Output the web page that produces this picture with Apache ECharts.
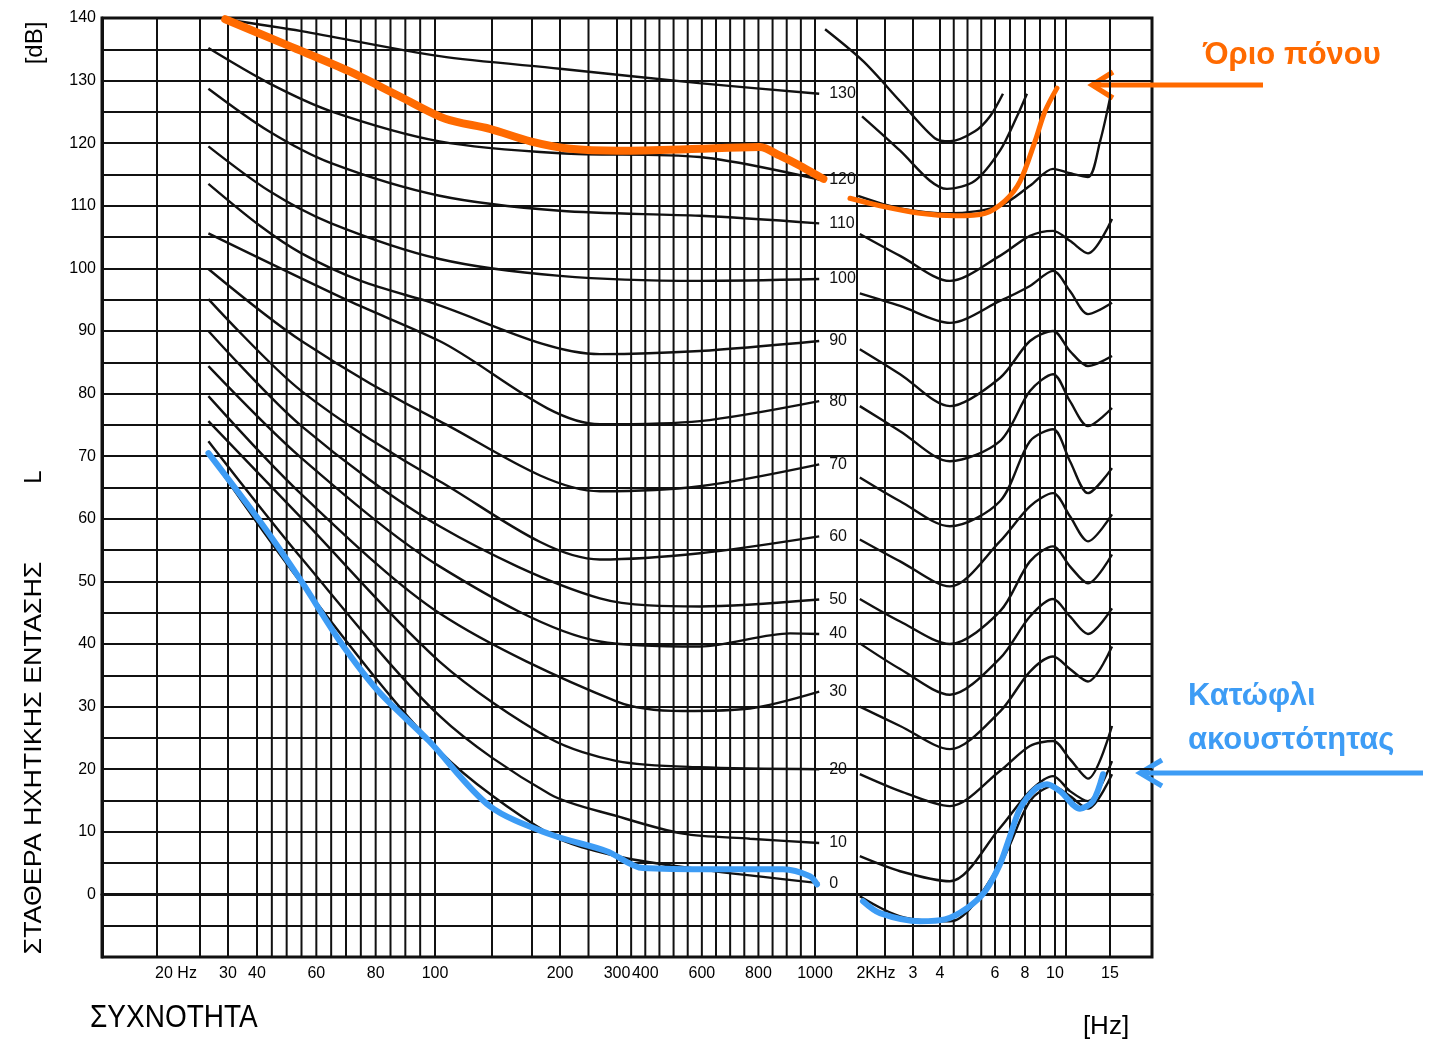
<!DOCTYPE html>
<html>
<head>
<meta charset="utf-8">
<script src="https://cdn.jsdelivr.net/npm/echarts@6/dist/echarts.min.js"></script>
<style>
  html, body { margin: 0; padding: 0; background: #fff; }
  #chart { width: 1432px; height: 1044px; }
</style>
</head>
<body>
<div id="chart"></div>
<script>
// the printed frequency scale is not a clean log scale, so every
// reference frequency gets its place along the paper (0..1050)
const scaleHz = [20, 25, 30, 40, 100, 150, 175, 200, 300, 1000, 2000, 2500, 3000, 4000, 6000, 8000, 10000, 15000, 20000]
const scalePos = [55, 98, 126, 155, 333, 390, 430, 458, 515, 713, 755, 783, 811, 838, 893, 923, 953, 1008, 1050]

const tickHz = [20, 30, 40, 60, 80, 100, 200, 300, 400, 600, 800, 1000, 2000, 3000, 4000, 6000, 8000, 10000, 15000]
const tickText = ['20 Hz', '30', '40', '60', '80', '100', '200', '300', '400', '600', '800', '1000', '2KHz', '3', '4', '6', '8', '10', '15']

// vertical rulings of the paper
const gridHz = [20, 25, 30, 40, 45, 50, 55, 60, 65, 70, 75, 80, 85, 90, 95, 100, 150, 175, 200, 250,
  300, 350, 400, 450, 500, 550, 600, 650, 700, 750, 800, 850, 900, 950, 1000,
  2000, 2500, 3000, 4000, 4500, 5000, 5500, 6000, 7000, 8000, 9000, 10000, 11000, 15000]

const levels = [130, 120, 110, 100, 90, 80, 70, 60, 50, 40, 30, 20, 10, 0]

// contours, [Hz, dB]; low = 20..1000 Hz sheet, high = 2..15 kHz sheet
const low130 = [[29.5, 139.8], [55, 137.9], [104, 133.9], [200, 131.9], [590, 129.6], [1100, 127.9]]
const low120 = [[26.5, 135.2], [44, 129.6], [65, 125.1], [104, 120.3], [200, 118.4], [593, 117.8], [1100, 114.2]]
const low110 = [[26.5, 128.7], [44, 121.9], [65, 116.8], [104, 111.6], [200, 109.2], [593, 108.4], [1100, 107.2]]
const low100 = [[26.5, 119.5], [44, 112.4], [65, 107.2], [104, 101.5], [200, 98.8], [593, 98.0], [1100, 98.3]]
const low90 = [[26.5, 113.5], [41, 106.8], [55, 102.4], [75, 98.0], [97, 94.8], [270, 86.3], [593, 86.8], [1100, 88.4]]
const low80 = [[26.5, 105.6], [71, 94.8], [104, 88.4], [270, 75.1], [593, 75.6], [1100, 78.8]]
const low70 = [[26.5, 99.9], [55, 88.4], [104, 75.6], [270, 64.4], [593, 65.2], [1100, 68.7]]
const low60 = [[26.5, 95.1], [55, 80.4], [104, 66.0], [270, 53.5], [593, 54.5], [1100, 57.2]]
const low50 = [[26.5, 90.0], [55, 74.8], [104, 58.8], [270, 47.3], [593, 46.0], [1100, 47.1]]
const low40 = [[26.5, 84.4], [55, 69.7], [104, 52.4], [270, 40.4], [593, 39.6], [912, 41.7], [1100, 41.6]]
const low30 = [[26.5, 79.6], [55, 63.9], [104, 44.9], [300, 30.8], [533, 29.3], [770, 29.7], [1100, 32.4]]
const low20 = [[26.5, 75.6], [55, 60.1], [104, 37.2], [191, 24.9], [300, 21.3], [593, 20.3], [1100, 20.0]]
const low10 = [[26.5, 72.4], [55, 53.7], [104, 28.5], [191, 16.0], [300, 12.5], [533, 9.7], [770, 8.9], [1100, 8.2]]
const low0 = [[26.5, 70.5], [55, 49.7], [104, 22.9], [191, 9.6], [300, 6.1], [593, 4.0], [1100, 1.8]]

const topHigh = [[1240, 138.2], [2110, 133.1], [2770, 126.7], [3810, 120.8], [4360, 120.3], [5270, 121.9], [5820, 124.3], [6530, 127.9]]
const high130 = [[2090, 124.3], [2770, 118.8], [3630, 114.0], [4255, 112.7], [5270, 114.0], [6330, 118.8], [7470, 124.3], [8130, 127.9]]
const high120 = [[2020, 111.6], [2770, 109.6], [4360, 108.8], [6330, 110.0], [8330, 113.2], [9870, 115.9], [11360, 115.2], [13000, 114.6], [14100, 120.3], [15000, 127.2]]
const high110 = [[2050, 105.5], [2770, 102.0], [4360, 98.0], [6330, 102.0], [8330, 105.2], [9870, 106.0], [11360, 104.4], [13000, 102.4], [15240, 107.9]]
const high100 = [[2050, 96.0], [2770, 94.0], [4360, 91.3], [6330, 94.8], [8330, 97.2], [9870, 99.6], [11360, 96.4], [13000, 92.7], [15240, 94.5]]
const high90 = [[2050, 87.1], [2770, 83.1], [4360, 78.0], [6330, 82.5], [8330, 88.4], [9870, 90.0], [11360, 86.8], [13000, 84.4], [15240, 86.0]]
const high80 = [[2050, 78.0], [2770, 74.0], [4360, 69.2], [6330, 72.4], [8330, 80.4], [9870, 83.1], [11360, 78.8], [13000, 74.8], [15240, 77.7]]
const high70 = [[2050, 66.6], [2770, 62.8], [4360, 58.8], [6330, 62.8], [8330, 72.4], [9870, 74.3], [11360, 69.2], [13000, 64.1], [15240, 68.1]]
const high60 = [[2050, 56.7], [2770, 53.2], [4360, 49.2], [6330, 56.4], [8330, 62.0], [9870, 64.1], [11360, 60.4], [13000, 56.4], [15240, 60.7]]
const high50 = [[2050, 47.2], [2770, 43.6], [4360, 40.0], [6330, 45.2], [8330, 53.2], [9870, 55.6], [11360, 52.4], [13000, 49.7], [15240, 54.3]]
const high40 = [[2050, 40.1], [2770, 36.0], [4360, 31.9], [6330, 37.7], [8330, 44.4], [9870, 47.2], [11360, 44.4], [13000, 41.6], [15240, 45.7]]
const high30 = [[2050, 30.0], [2770, 26.9], [4360, 23.2], [6330, 29.2], [8330, 35.6], [9870, 38.0], [11360, 36.0], [13000, 34.0], [15240, 39.6]]
const high20 = [[2050, 19.2], [2770, 16.5], [4360, 14.1], [6330, 19.7], [8330, 23.7], [9870, 24.5], [11360, 21.6], [13000, 18.5], [15240, 26.9]]
const high10 = [[2050, 6.1], [2770, 3.7], [4360, 2.1], [6330, 10.6], [8330, 16.5], [9870, 18.9], [11360, 16.5], [13000, 14.9], [15240, 21.3]]
const high0 = [[2050, -0.3], [2770, -3.5], [4360, -4.3], [6330, 4.8], [8330, 14.9], [9870, 17.3], [11360, 15.7], [13000, 13.7], [15240, 19.2]]

// hand drawn highlights
const painLow = [[29.5, 139.8], [51, 135.5], [71, 131.5], [88, 127.5], [109, 123.9], [148, 122.3], [174, 120.3], [218, 119.1], [311, 118.8], [593, 119.1], [805, 119.4], [876, 118.0], [947, 116.4], [1200, 114.3]]
const painHigh = [[1833, 111.2], [2411, 110.0], [3259, 108.8], [4546, 108.4], [5638, 108.8], [6667, 110.8], [7667, 113.9], [8667, 120.3], [9333, 125.1], [10180, 128.8]]
const hearLow = [[26.5, 70.5], [41, 59.6], [55, 50.0], [68, 40.4], [81, 32.4], [98, 24.5], [148, 14.1], [191, 9.6], [282, 6.9], [392, 4.2], [654, 4.0], [887, 4.0], [982, 2.9], [1048, 1.6]]
const hearHigh = [[2107, -1.1], [2410, -3.0], [3260, -4.3], [4180, -4.0], [4980, -2.2], [5640, 0.5], [6330, 4.8], [7000, 9.3], [7670, 13.7], [8670, 16.8], [9470, 17.6], [10450, 16.5], [12270, 13.7], [13450, 14.9], [14360, 19.2]]

const lowCurves = [low130, low120, low110, low100, low90, low80, low70, low60, low50, low40, low30, low20, low10, low0]
const highCurves = [high130, high120, high110, high100, high90, high80, high70, high60, high50, high40, high30, high20, high10, high0]

const ORANGE = '#ff6a00'
const BLUE = '#3d9cf5'
const INK = '#111'
const FONT = '"Liberation Sans", Arial, sans-serif'

function hzToPos(f) {
  let i = 1
  while (i < scaleHz.length - 1 && f > scaleHz[i]) i++
  const t = (f - scaleHz[i - 1]) / (scaleHz[i] - scaleHz[i - 1])
  return scalePos[i - 1] + t * (scalePos[i] - scalePos[i - 1])
}
const toXY = pts => pts.map(p => [hzToPos(p[0]), p[1]])

function contour(pts, label) {
  const s = {
    type: 'line',
    data: toXY(pts),
    smooth: 0.3,
    symbol: 'none',
    silent: true,
    z: 3,
    lineStyle: { color: INK, width: 2.4 }
  }
  if (label !== undefined) {
    s.endLabel = { show: true, formatter: String(label), color: INK, fontSize: 16, fontFamily: FONT, distance: 10 }
  }
  return s
}

function highlight(pts, color, width) {
  return {
    type: 'line',
    data: toXY(pts),
    smooth: 0.3,
    symbol: 'none',
    silent: true,
    z: 5,
    lineStyle: { color: color, width: width, cap: 'round', join: 'round' }
  }
}

const series = [{
  type: 'custom',
  silent: true,
  z: 1,
  data: gridHz.map(f => [hzToPos(f)]),
  renderItem: (params, api) => {
    const x = api.value(0)
    const a = api.coord([x, -10])
    const b = api.coord([x, 140])
    return { type: 'line', shape: { x1: a[0], y1: a[1], x2: b[0], y2: b[1] }, style: { stroke: INK, lineWidth: 2 } }
  }
}]
lowCurves.forEach((c, i) => series.push(contour(c, levels[i])))
highCurves.forEach(c => series.push(contour(c)))
series.push(contour(topHigh))
series.push(highlight(painLow, ORANGE, 8))
series.push(highlight(painHigh, ORANGE, 5))
series.push(highlight(hearLow, BLUE, 6))
series.push(highlight(hearHigh, BLUE, 6))

const chart = echarts.init(document.getElementById('chart'))
chart.setOption({
  animation: false,
  backgroundColor: '#fff',
  grid: { left: 102, top: 18, width: 1050, height: 939, show: true, borderColor: INK, borderWidth: 3 },
  xAxis: {
    type: 'value',
    min: 0,
    max: 1050,
    axisLine: { show: true, lineStyle: { color: INK, width: 3 } },
    axisTick: { show: false },
    splitLine: { show: false },
    axisLabel: {
      customValues: tickHz.map(hzToPos),
      margin: 9,
      color: '#000',
      fontSize: 16,
      fontFamily: FONT,
      formatter: v => {
        const i = tickHz.findIndex(f => Math.abs(hzToPos(f) - v) < 0.5)
        if (i < 0) return ''
        if (tickText[i] === '20 Hz' || tickText[i] === '2KHz') return '{shift|' + tickText[i] + '}'
        return tickText[i]
      },
      rich: { shift: { fontSize: 16, fontFamily: FONT, color: '#000', padding: [0, 0, 0, 38] } }
    }
  },
  yAxis: {
    type: 'value',
    min: -10,
    max: 140,
    interval: 5,
    axisLine: { show: true, lineStyle: { color: INK, width: 3 } },
    axisTick: { show: false },
    splitLine: { show: true, lineStyle: { color: INK, width: 2 } },
    axisLabel: {
      margin: 6,
      color: '#000',
      fontSize: 16,
      fontFamily: FONT,
      formatter: v => (v >= 0 && v % 10 === 0) ? String(v) : ''
    }
  },
  graphic: [
    { type: 'text', x: 35, y: 43, rotation: Math.PI / 2, style: { text: '[dB]', font: '24px ' + FONT, fill: '#000', align: 'center', verticalAlign: 'middle' } },
    { type: 'text', x: 34, y: 758, rotation: Math.PI / 2, scaleX: 1.12, style: { text: 'ΣΤΑΘΕΡΑ ΗΧΗΤΙΚΗΣ ΕΝΤΑΣΗΣ', font: '24px ' + FONT, fill: '#000', align: 'center', verticalAlign: 'middle' } },
    { type: 'text', x: 34, y: 477, rotation: Math.PI / 2, style: { text: 'L', font: '24px ' + FONT, fill: '#000', align: 'center', verticalAlign: 'middle' } },
    { type: 'text', x: 90, y: 1018, scaleY: 1.15, style: { text: 'ΣΥΧΝΟΤΗΤΑ', font: '28px ' + FONT, fill: '#000', align: 'left', verticalAlign: 'middle' } },
    { type: 'text', x: 1106, y: 1027, style: { text: '[Hz]', font: '26px ' + FONT, fill: '#000', align: 'center', verticalAlign: 'middle' } },
    { type: 'text', x: 1203, y: 55, style: { text: 'Όριο πόνου', font: 'bold 31px ' + FONT, fill: ORANGE, align: 'left', verticalAlign: 'middle' } },
    { type: 'line', shape: { x1: 1263, y1: 85, x2: 1094, y2: 85 }, style: { stroke: ORANGE, lineWidth: 5 } },
    { type: 'polyline', shape: { points: [[1113, 72], [1092, 85], [1113, 98]] }, style: { stroke: ORANGE, lineWidth: 5, fill: null } },
    { type: 'text', x: 1188, y: 696, style: { text: 'Κατώφλι', font: 'bold 31px ' + FONT, fill: BLUE, align: 'left', verticalAlign: 'middle' } },
    { type: 'text', x: 1188, y: 740, style: { text: 'ακουστότητας', font: 'bold 31px ' + FONT, fill: BLUE, align: 'left', verticalAlign: 'middle' } },
    { type: 'line', shape: { x1: 1423, y1: 773, x2: 1142, y2: 773 }, style: { stroke: BLUE, lineWidth: 5 } },
    { type: 'polyline', shape: { points: [[1162, 760], [1140, 773], [1162, 786]] }, style: { stroke: BLUE, lineWidth: 5, fill: null } }
  ],
  series: series
})
</script>
</body>
</html>
